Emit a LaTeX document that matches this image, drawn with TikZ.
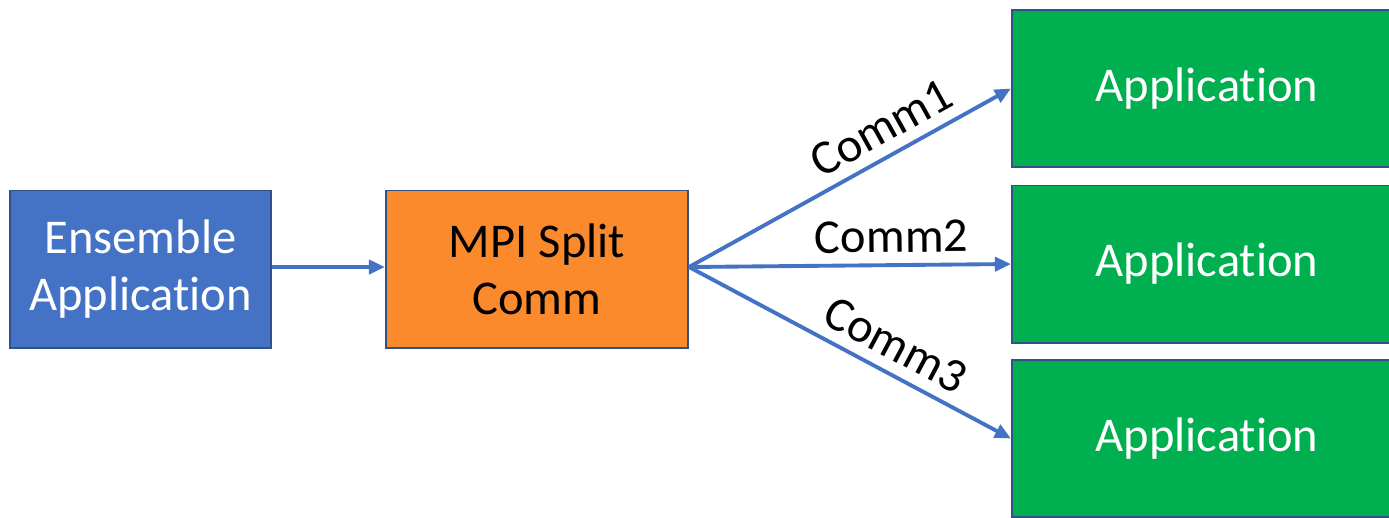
\documentclass[tikz,border=0pt]{standalone}
\usepackage{fontspec}
\setmainfont{Carlito}[Ligatures=NoCommon]
\usepackage{xcolor}
\usetikzlibrary{arrows.meta}

\definecolor{ensblue}{HTML}{4472C4}
\definecolor{boxline}{HTML}{2F528F}
\definecolor{splitorange}{HTML}{FB8A2C}
\definecolor{appgreen}{HTML}{00B050}

\begin{document}
\begin{tikzpicture}[x=0.01cm,y=-0.01cm,
	box/.style={draw=boxline, line width=0.55pt, rectangle, minimum height=1.57cm,
		align=center, font=\fontsize{13.8}{16.2}\selectfont},
	link/.style={draw=ensblue, line width=1.1pt, -{Triangle[length=0.16cm, width=0.14cm]}},
	lbl/.style={font=\fontsize{13.8}{16}\selectfont, sloped, above, inner sep=3pt}]
	\clip (0,0) rectangle (1389,517);
	\fill[white] (0,0) rectangle (1389,517);
	% left side
	\node[box, fill=ensblue, text=white, minimum width=2.61cm] (ens) at (140.5,269) {Ensemble\\Application};
	\node[box, fill=splitorange, minimum width=3.02cm] (split) at (537,269) {MPI Split\\Comm};
	% three apps on the right
	\foreach \i/\y in {1/88.5, 2/264, 3/438.5} {
		\node[box, fill=appgreen, text=white, minimum width=3.9cm] (app\i) at (1207,\y) {Application};
	}
	\draw[link] (ens.east |- 0,267) -- (split.west |- 0,267);
	\draw[link] (split.east |- 0,267) -- (app1.west) node[lbl, pos=0.64] {Comm1};
	\draw[link] (split.east |- 0,267) -- (app2.west) node[lbl, pos=0.63] {Comm2};
	\draw[link] (split.east |- 0,267) -- (app3.west) node[lbl, pos=0.6] {Comm3};
\end{tikzpicture}
\end{document}
